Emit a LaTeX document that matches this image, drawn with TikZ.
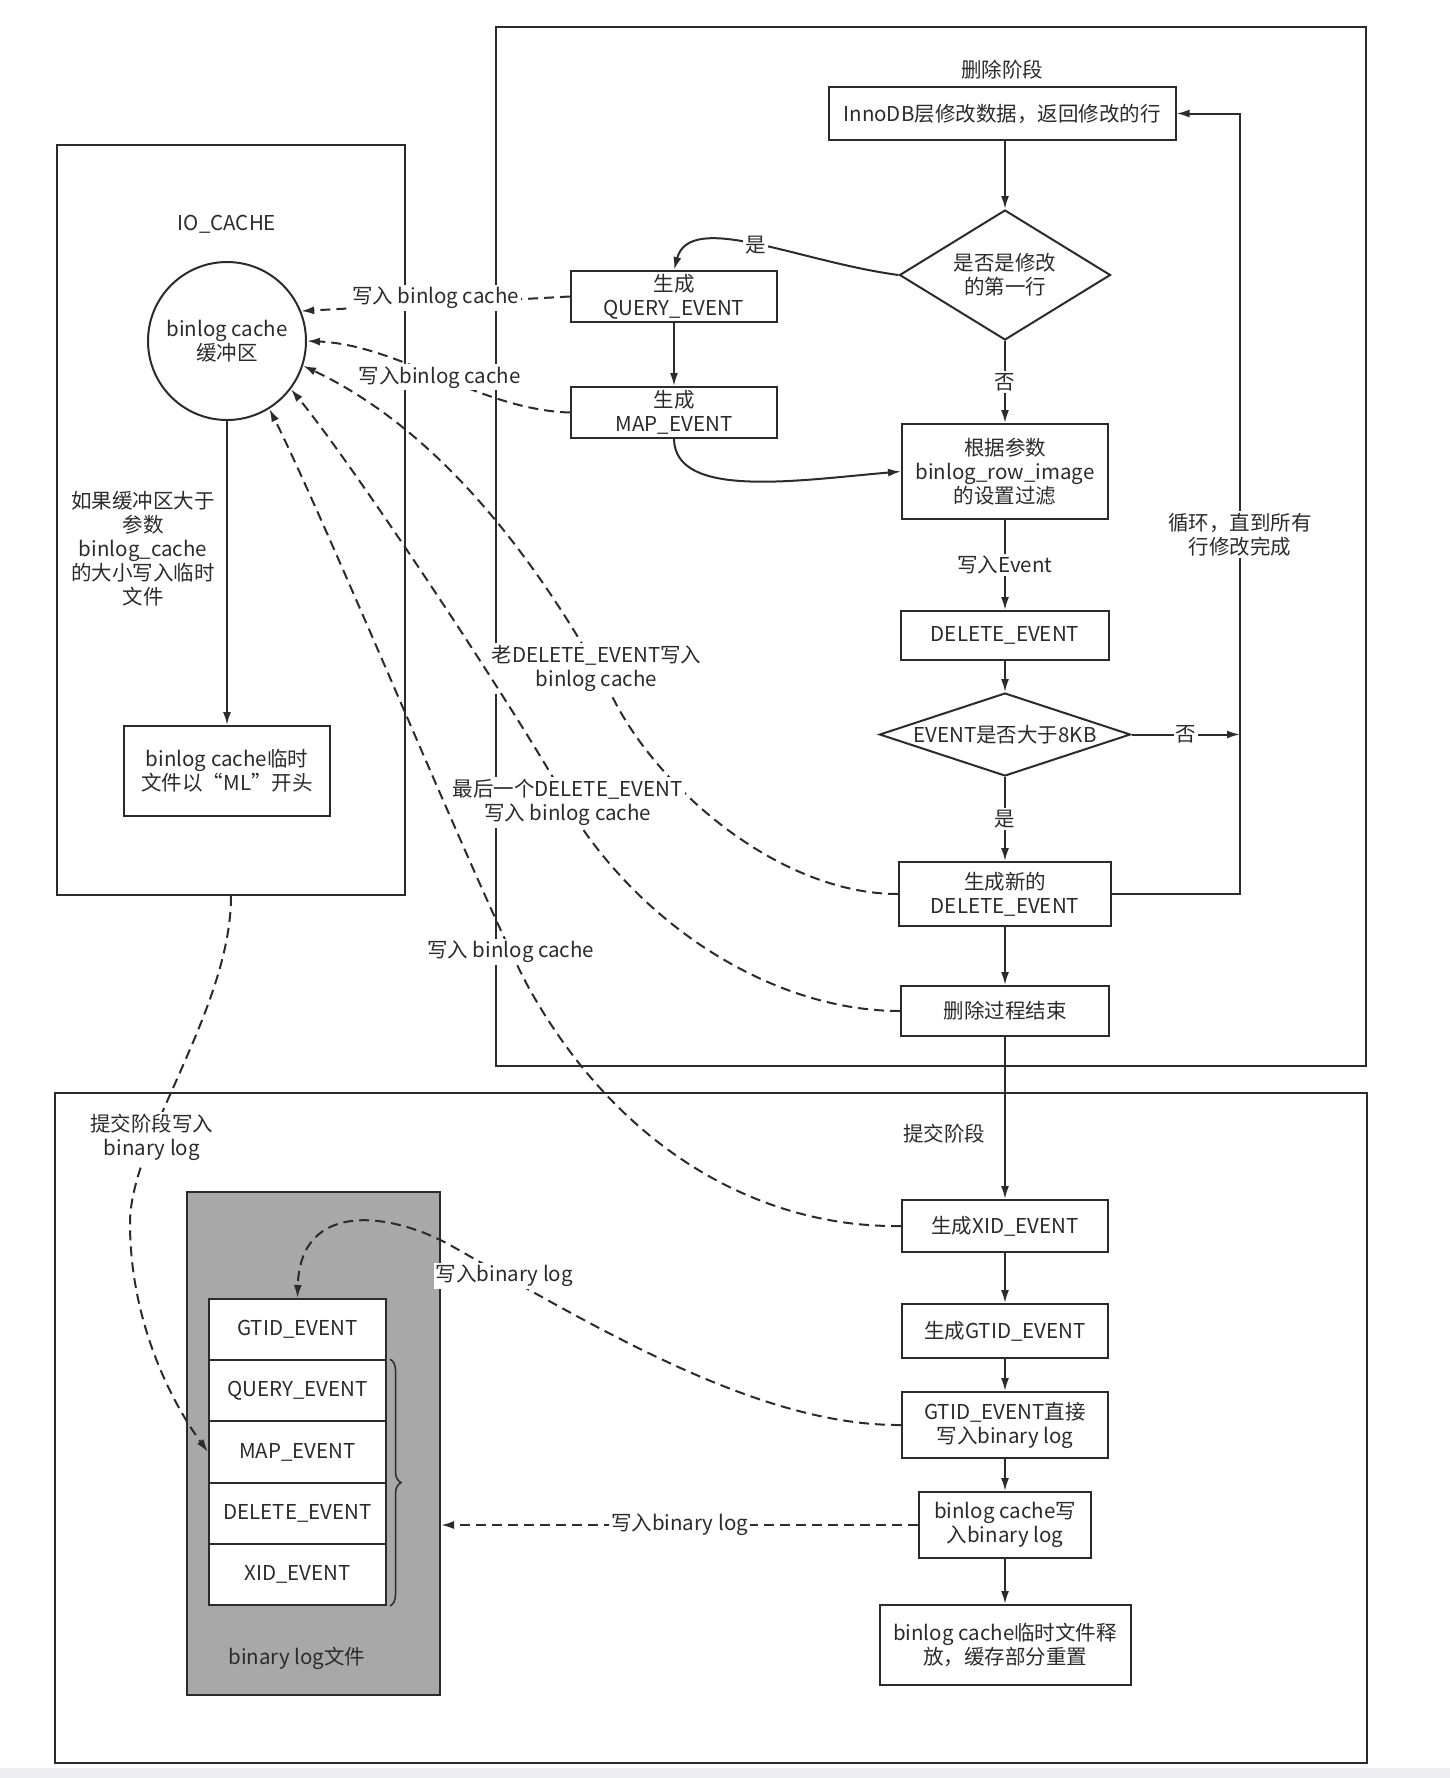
\documentclass[tikz,border=0pt]{standalone}
\usepackage{fontspec}
\setmainfont{Noto Sans CJK SC}
\usetikzlibrary{shapes.geometric,arrows.meta,decorations.pathreplacing}

\definecolor{inkgray}{HTML}{2B2B2B}
\definecolor{filegray}{HTML}{A8A8A8}
\definecolor{footgray}{HTML}{ECEEF2}

\tikzstyle{binlog_style}=[->,>={Latex[length=13pt,width=8pt]},x=1pt,y=-1pt,
  line width=2pt,color=inkgray,
  font=\fontsize{20.5}{24}\selectfont,
  frame/.style={rectangle,draw,inner sep=0pt},
  proc/.style={rectangle,draw,fill=white,align=center,inner sep=2pt},
  decision/.style={diamond,draw,inner sep=0pt},
  note/.style={align=center,inner sep=1pt},
  tag/.style={fill=white,align=center,inner sep=2pt},
  cache/.style={circle,draw,align=center,minimum size=158pt,inner sep=1pt},
  stack/.style={rectangle,draw,fill=white,minimum width=177pt,minimum height=61.2pt},
  written/.style={dash pattern=on 10pt off 6pt},]

\begin{document}
\begin{tikzpicture}[binlog_style]

    \useasboundingbox (0,0) rectangle (1450,1778);
    \fill[-,footgray] (0,1768) rectangle (1450,1778);

    % Draw the frames of the two stages and of IO_CACHE
    \node[frame, minimum width=870pt, minimum height=1039pt] (del-frame) at (931,546.5) {};
    \node[frame, minimum width=348pt, minimum height=750pt] (io-frame) at (231,520) {};
    \node[frame, minimum width=1312pt, minimum height=670pt] (commit-frame) at (711,1428) {};
    \node[frame, fill=filegray, minimum width=253pt, minimum height=503pt] (file) at (313.5,1443.5) {};

    % Draw the delete stage nodes
    \node[note] (del-title) at (1002,70) {删除阶段};
    \node[proc, minimum width=347pt, minimum height=53pt] (D-innodb) at (1002,113.5) {InnoDB层修改数据，返回修改的行};
    \node[decision, minimum width=211pt, minimum height=130pt] (D-first) at (1005,275) {};
    \node[note] (D-first-text) at (D-first) {是否是修改\\的第一行};
    \node[proc, minimum width=206pt, minimum height=51pt] (D-query) at (674,296.5) {生成\\QUERY\_EVENT};
    \node[proc, minimum width=206pt, minimum height=51pt] (D-map) at (674,412.5) {生成\\MAP\_EVENT};
    \node[proc, minimum width=206pt, minimum height=95pt] (D-filter) at (1005,471.5) {根据参数\\binlog\_row\_image\\的设置过滤};
    \node[proc, minimum width=208pt, minimum height=49pt] (D-del) at (1005,635.5) {DELETE\_EVENT};
    \node[decision, minimum width=251pt, minimum height=83pt] (D-size) at (1005,734.5) {};
    \node[note] (D-size-text) at (D-size) {EVENT是否大于8KB};
    \node[proc, minimum width=212pt, minimum height=64pt] (D-new) at (1005,894) {生成新的\\DELETE\_EVENT};
    \node[proc, minimum width=208pt, minimum height=50pt] (D-end) at (1005,1011) {删除过程结束};
    \coordinate (loop-bot) at (1240,894);

    % Draw the IO_CACHE nodes
    \node[note] (io-title) at (227,224) {IO\_CACHE};
    \node[cache] (bc) at (227,341) {binlog cache\\缓冲区};
    \node[note] (io-note) at (143,549) {如果缓冲区大于\\参数\\binlog\_cache\\的大小写入临时\\文件};
    \node[proc, minimum width=206pt, minimum height=90pt] (io-tmp) at (227,771) {binlog cache临时\\文件以“ML”开头};

    % Draw the commit stage nodes
    \node[note] (commit-title) at (944,1134) {提交阶段};
    \node[proc, minimum width=206pt, minimum height=52pt] (C-xid) at (1005,1226) {生成XID\_EVENT};
    \node[proc, minimum width=206pt, minimum height=54pt] (C-gtid) at (1005,1331) {生成GTID\_EVENT};
    \node[proc, minimum width=206pt, minimum height=66pt] (C-direct) at (1005,1425) {GTID\_EVENT直接\\写入binary log};
    \node[proc, minimum width=172pt, minimum height=66pt] (C-cache) at (1005,1525) {binlog cache写\\入binary log};
    \node[proc, minimum width=251pt, minimum height=80pt] (C-free) at (1005,1645) {binlog cache临时文件释\\放，缓存部分重置};

    % Draw the events of the binary log file
    \foreach \name [count=\i] in {GTID,QUERY,MAP,DELETE,XID}
        \node[stack] (L-\i) at (297.5, 1268.4+61.2*\i) {\name\_EVENT};
    \draw[-, line width=1.5pt, decorate, decoration={brace, amplitude=11pt}]
        ([xshift=3pt]L-2.north east) -- ([xshift=3pt]L-5.south east);
    \node[note] (file-title) at (297,1658) {binary log文件};

    % Connect the delete stage
    \draw (D-innodb.south -| D-first.north) -- (D-first.north);
    \draw (D-first.west) .. controls (800,262) and (690,210) .. (D-query.north) node[tag, pos=0.5] (yes-1) {是};
    \draw (D-query.south) -- (D-map.north);
    \draw (D-map.south) .. controls (675,500) and (800,480) .. (D-filter.west);
    \draw (D-first.south) -- node[tag] (no-1) {否} (D-filter.north);
    \draw (D-filter.south) -- node[tag] (ev-tag) {写入Event} (D-del.north);
    \draw (D-del.south) -- (D-size.north);
    \draw (D-size.south) -- node[tag] (yes-2) {是} (D-new.north);
    \draw (D-size.east) -- node[tag] (no-2) {否} (D-size.east -| loop-bot);
    \draw (D-new.south) -- (D-end.north);
    \draw (D-new.east) -- (loop-bot) -- node[tag, pos=0.46] (loop-tag) {循环，直到所有\\行修改完成}
        (loop-bot |- D-innodb.east) -- (D-innodb.east);

    % Connect the IO_CACHE
    \draw (bc.south) -- (io-tmp.north);

    % Connect the commit stage
    \draw (D-end.south) -- (C-xid.north);
    \draw (C-xid.south) -- (C-gtid.north);
    \draw (C-gtid.south) -- (C-direct.north);
    \draw (C-direct.south) -- (C-cache.north);
    \draw (C-cache.south) -- (C-free.north);

    % Events written into the binlog cache
    \draw[written] (D-query.west) -- node[tag, yshift=6pt] (w-1) {写入 binlog cache} (bc.22);
    \draw[written] (D-map.west) .. controls (480,410) and (400,345) .. (bc.0) node[tag, pos=0.5] (w-2) {写入binlog cache};
    \draw[written] (D-new.west) .. controls (780,894) and (660,790) .. (614,700)
        .. controls (560,600) and (460,440) .. (bc.342) node[tag, pos=0.1] (w-3) {老DELETE\_EVENT写入\\binlog cache};
    \draw[written] (D-end.west) .. controls (780,1011) and (655,935) .. (580,825)
        .. controls (530,730) and (350,460) .. (bc.323) node[tag, pos=0.07] (w-4) {最后一个DELETE\_EVENT\\写入 binlog cache};
    \draw[written] (C-xid.west) .. controls (760,1228) and (620,1150) .. (530,990)
        .. controls (490,919) and (330,530) .. (bc.302) node[tag, pos=0.12] (w-5) {写入 binlog cache};

    % Events written into the binary log
    \draw[written] (io-frame.south) .. controls (231,1010) and (130,1140) .. (130,1223) node[tag, pos=0.7] (w-6) {提交阶段写入\\binary log}
        .. controls (130,1320) and (170,1400) .. (L-3.west);
    \draw[written] (C-direct.west) .. controls (760,1426) and (600,1330) .. (450,1245) node[tag, pos=0.88] (w-7) {写入binary log}
        .. controls (390,1212) and (300,1200) .. (L-1.north);
    \draw[written] (C-cache.west) -- node[tag] (w-8) {写入binary log} (C-cache.west -| file.east);

\end{tikzpicture}
\end{document}
